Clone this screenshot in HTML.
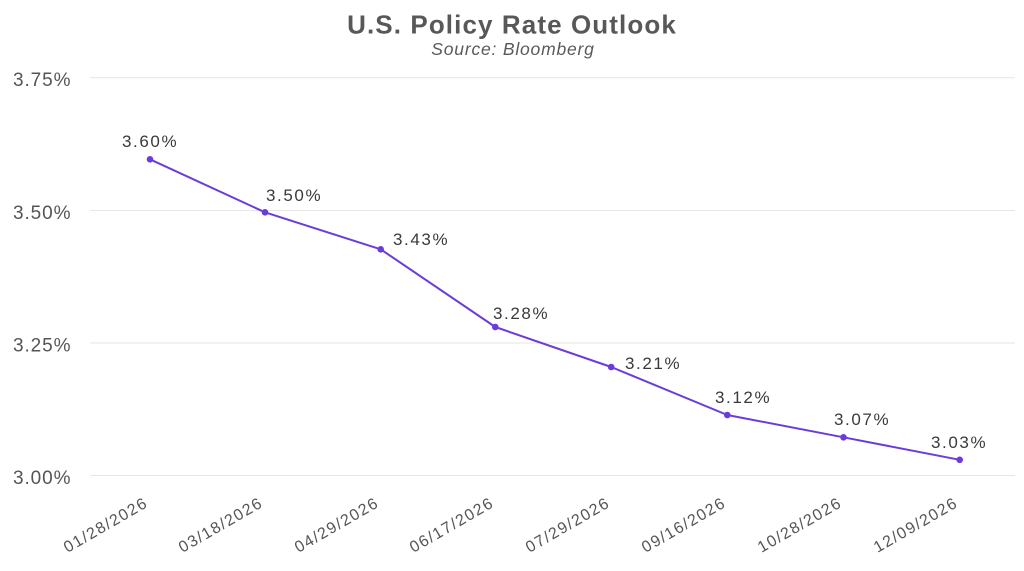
<!DOCTYPE html>
<html>
<head>
<meta charset="utf-8">
<style>
  html, body { margin:0; padding:0; background:#ffffff; }
  body { width:1024px; height:571px; overflow:hidden; }
  svg { display:block; }
  .t { font-family:"Liberation Sans", sans-serif; }
</style>
</head>
<body>
<svg width="1024" height="571" viewBox="0 0 1024 571" xmlns="http://www.w3.org/2000/svg">
  <rect width="1024" height="571" fill="#ffffff"/>
  <!-- title -->
  <text class="t" x="512" y="33.5" text-anchor="middle" font-size="26" font-weight="bold" fill="#58585a" letter-spacing="1.1">U.S. Policy Rate Outlook</text>
  <text class="t" x="513" y="55" text-anchor="middle" font-size="17.5" font-style="italic" fill="#5a5a5a" letter-spacing="0.8">Source: Bloomberg</text>

  <!-- gridlines -->
  <g stroke="#e6e6e6" stroke-width="1">
    <line x1="90" y1="77.7" x2="1015" y2="77.7"/>
    <line x1="90" y1="210.5" x2="1015" y2="210.5"/>
    <line x1="90" y1="343" x2="1015" y2="343"/>
    <line x1="90" y1="475.5" x2="1015" y2="475.5"/>
  </g>

  <!-- y labels -->
  <g class="t" font-size="19" fill="#555555" letter-spacing="0.9">
    <text x="13" y="86">3.75%</text>
    <text x="13" y="218.8">3.50%</text>
    <text x="13" y="351.3">3.25%</text>
    <text x="13" y="483.8">3.00%</text>
  </g>

  <!-- line -->
  <polyline fill="none" stroke="#6a3ddb" stroke-width="2" stroke-linejoin="round"
    points="150,159.3 265,212.3 380.7,249.3 495.3,327 611.2,367 727.3,415 843.5,437.3 959.7,459.8"/>
  <g fill="#6a3ddb">
    <circle cx="150" cy="159.3" r="3.3"/>
    <circle cx="265" cy="212.3" r="3.3"/>
    <circle cx="380.7" cy="249.3" r="3.3"/>
    <circle cx="495.3" cy="327" r="3.3"/>
    <circle cx="611.2" cy="367" r="3.3"/>
    <circle cx="727.3" cy="415" r="3.3"/>
    <circle cx="843.5" cy="437.3" r="3.3"/>
    <circle cx="959.7" cy="459.8" r="3.3"/>
  </g>

  <!-- data labels -->
  <g class="t" font-size="17" fill="#3a3a3a" letter-spacing="1.6">
    <text x="122" y="147">3.60%</text>
    <text x="266" y="201">3.50%</text>
    <text x="393" y="245">3.43%</text>
    <text x="493" y="319">3.28%</text>
    <text x="625" y="369">3.21%</text>
    <text x="715" y="403">3.12%</text>
    <text x="834" y="425">3.07%</text>
    <text x="931" y="448">3.03%</text>
  </g>

  <!-- x labels -->
  <g class="t" font-size="16" fill="#555555" letter-spacing="1.4" text-anchor="end">
    <text transform="translate(149,506) rotate(-30)">01/28/2026</text>
    <text transform="translate(264,506) rotate(-30)">03/18/2026</text>
    <text transform="translate(380,506) rotate(-30)">04/29/2026</text>
    <text transform="translate(495,506) rotate(-30)">06/17/2026</text>
    <text transform="translate(611,506) rotate(-30)">07/29/2026</text>
    <text transform="translate(727,506) rotate(-30)">09/16/2026</text>
    <text transform="translate(843,506) rotate(-30)">10/28/2026</text>
    <text transform="translate(959,506) rotate(-30)">12/09/2026</text>
  </g>
</svg>
</body>
</html>
